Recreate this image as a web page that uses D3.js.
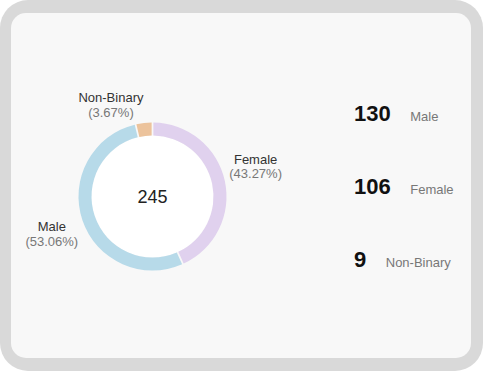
<!DOCTYPE html>
<html>
<head>
<meta charset="utf-8">
<script src="https://cdn.jsdelivr.net/npm/d3@7"></script>
<style>
  html, body { margin: 0; padding: 0; background: #fff; }
  svg { display: block; font-family: "Liberation Sans", Arial, sans-serif; }
</style>
</head>
<body>
<div id="chart"></div>
<script>
// data
var categories = ["Female", "Male", "Non-Binary"];
var counts = [106, 130, 9];
var colors = ["#e0d1ee", "#b7dae9", "#ecc39c"];

var svgWidth = 483;
var svgHeight = 371;

var svg = d3.select("#chart")
  .append("svg")
  .attr("width", svgWidth)
  .attr("height", svgHeight);

// frame + card
svg.append("rect")
  .attr("width", svgWidth)
  .attr("height", svgHeight)
  .attr("rx", 28)
  .attr("fill", "#d9d9d9");

svg.append("rect")
  .attr("x", 11)
  .attr("y", 13)
  .attr("width", 460)
  .attr("height", 345)
  .attr("rx", 15)
  .attr("fill", "#f8f8f8");

var data = categories.map(function(c, i) {
  return { name: c, value: counts[i], color: colors[i] };
});
var total = d3.sum(counts);

var cx = 152.5, cy = 196.5;
var outerR = 74, innerR = 61;

var donut = svg.append("g")
  .attr("transform", `translate(${cx}, ${cy})`);

donut.append("circle")
  .attr("r", innerR)
  .attr("fill", "#fff");

var pie = d3.pie()
  .sort(null)
  .value(d => d.value);

var arc = d3.arc()
  .innerRadius(innerR)
  .outerRadius(outerR)
  .padAngle(0.018);

var arcs = pie(data);

donut.selectAll("path.slice")
  .data(arcs)
  .enter()
  .append("path")
  .attr("class", "slice")
  .attr("d", arc)
  .attr("fill", d => d.data.color);

// total in the middle
donut.append("text")
  .attr("text-anchor", "middle")
  .attr("y", 6.5)
  .attr("font-size", 18)
  .attr("fill", "#222")
  .text(total);

// outside labels: the box corner facing the center sits on the mid-angle ray
var fmt = d3.format(".2f");
var labelR = outerR + 4.5;

arcs.forEach(function(a) {
  var mid = (a.startAngle + a.endAngle) / 2;
  var px = Math.sin(mid) * labelR;
  var py = -Math.cos(mid) * labelR;

  var g = donut.append("g");
  var t1 = g.append("text")
    .attr("text-anchor", "middle")
    .attr("font-size", 13)
    .attr("fill", "#333")
    .text(a.data.name);
  var t2 = g.append("text")
    .attr("text-anchor", "middle")
    .attr("font-size", 13)
    .attr("fill", "#777")
    .text("(" + fmt(a.data.value / total * 100) + "%)");

  var w = Math.max(t1.node().getComputedTextLength(), t2.node().getComputedTextLength());
  var h = 26;
  var left = Math.sin(mid) < 0 ? px - w : px;
  var top = -Math.cos(mid) < 0 ? py - h : py;
  var mx = left + w / 2;

  t1.attr("x", mx).attr("y", top + 9.5);
  t2.attr("x", mx).attr("y", top + 24);
});

// right hand counts, biggest first
var sorted = data.slice().sort((a, b) => b.value - a.value);

var yRow = d3.scalePoint()
  .domain(sorted.map(d => d.name))
  .range([121, 267]);

var numX = 354;

sorted.forEach(function(d) {
  var num = svg.append("text")
    .attr("x", numX)
    .attr("y", yRow(d.name))
    .attr("font-size", 22)
    .attr("font-weight", "bold")
    .attr("fill", "#111")
    .text(d.value);
  var nw = num.node().getComputedTextLength();
  svg.append("text")
    .attr("x", numX + nw + 19.5)
    .attr("y", yRow(d.name))
    .attr("font-size", 13)
    .attr("fill", "#777")
    .text(d.name);
});
</script>
</body>
</html>
